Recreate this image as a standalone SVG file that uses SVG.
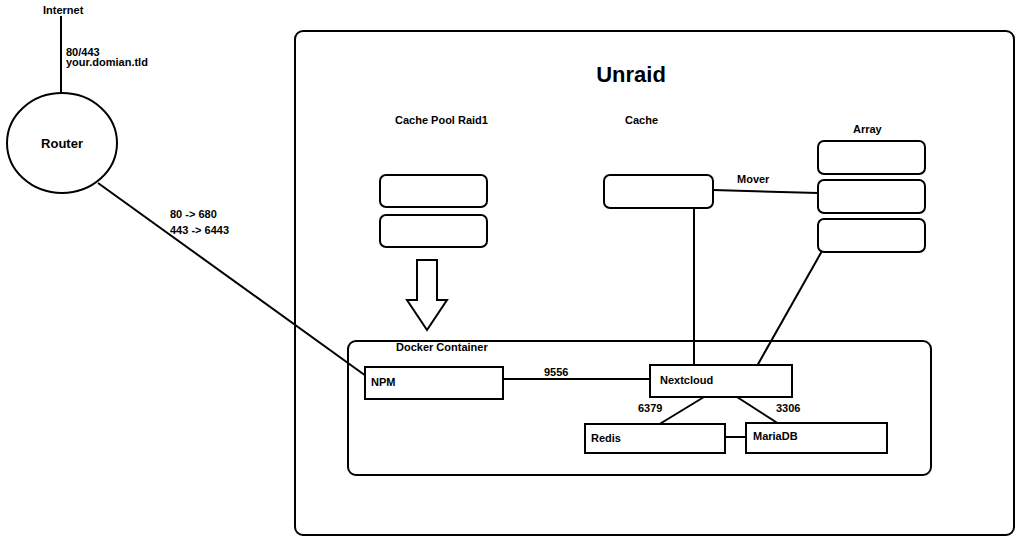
<svg xmlns="http://www.w3.org/2000/svg" width="1024" height="543" viewBox="0 0 1024 543">
<style>
text{font-family:"Liberation Sans",Arial,sans-serif;font-weight:bold;font-size:11px;fill:#000}
.b{fill:#fff;stroke:#000;stroke-width:2}
.l{stroke:#000;stroke-width:2;fill:none}
</style>
<rect width="1024" height="543" fill="#fff"/>
<g id="unraid"><rect class="b" x="295" y="31" width="719" height="504" rx="8"/><text x="631" y="82" font-size="22" text-anchor="middle" style="font-size:22px">Unraid</text></g>
<g id="connectors">
<line class="l" x1="61" y1="16" x2="61" y2="93"/>
<line class="l" x1="98" y1="183" x2="366" y2="376"/>
<line class="l" x1="713" y1="190" x2="818" y2="193"/>
<line class="l" x1="694" y1="208" x2="694" y2="366"/>
<line class="l" x1="822" y1="251" x2="757" y2="366"/>
<line class="l" x1="503" y1="379" x2="650" y2="379"/>
<line class="l" x1="704" y1="397" x2="658" y2="425"/>
<line class="l" x1="737" y1="397" x2="779" y2="424"/>
<line class="l" x1="725" y1="437" x2="746" y2="437"/>
<polygon class="l" points="417,260 437,260 437,300 447,300 427,330 407,300 417,300"/>
</g>
<g id="labels">
<text x="43" y="14">Internet</text>
<text x="66" y="56">80/443</text>
<text x="66" y="66">your.domian.tld</text>
<text x="170" y="218">80 -&gt; 680</text>
<text x="170" y="234">443 -&gt; 6443</text>
<text x="737" y="183">Mover</text>
<text x="544" y="376">9556</text>
<text x="638" y="412">6379</text>
<text x="776" y="412">3306</text>
</g>
<g id="router"><ellipse class="b" cx="62" cy="143" rx="55" ry="50"/><text x="62" y="148" text-anchor="middle" style="font-size:13px">Router</text></g>
<g id="cachepool"><text x="395" y="124">Cache Pool Raid1</text>
<rect class="b" x="380" y="175" width="107" height="32" rx="6"/>
<rect class="b" x="380" y="215" width="107" height="32" rx="6"/></g>
<g id="cache"><text x="625" y="124">Cache</text><rect class="b" x="604" y="175" width="109" height="33" rx="6"/></g>
<g id="array"><text x="853" y="133">Array</text>
<rect class="b" x="818" y="141" width="107" height="33" rx="6"/>
<rect class="b" x="818" y="180" width="107" height="33" rx="6"/>
<rect class="b" x="818" y="219" width="107" height="33" rx="6"/></g>
<g id="docker"><rect class="l" x="348" y="341" width="583" height="134" rx="8"/><text x="396" y="351">Docker Container</text></g>
<g id="npm"><rect class="b" x="365" y="367" width="138" height="32"/><text x="371" y="386">NPM</text></g>
<g id="nextcloud"><rect class="b" x="650" y="365" width="142" height="32"/><text x="660" y="384">Nextcloud</text></g>
<g id="redis"><rect class="b" x="585" y="424" width="140" height="29"/><text x="591" y="442">Redis</text></g>
<g id="mariadb"><rect class="b" x="746" y="423" width="141" height="30"/><text x="753" y="440">MariaDB</text></g>
</svg>
